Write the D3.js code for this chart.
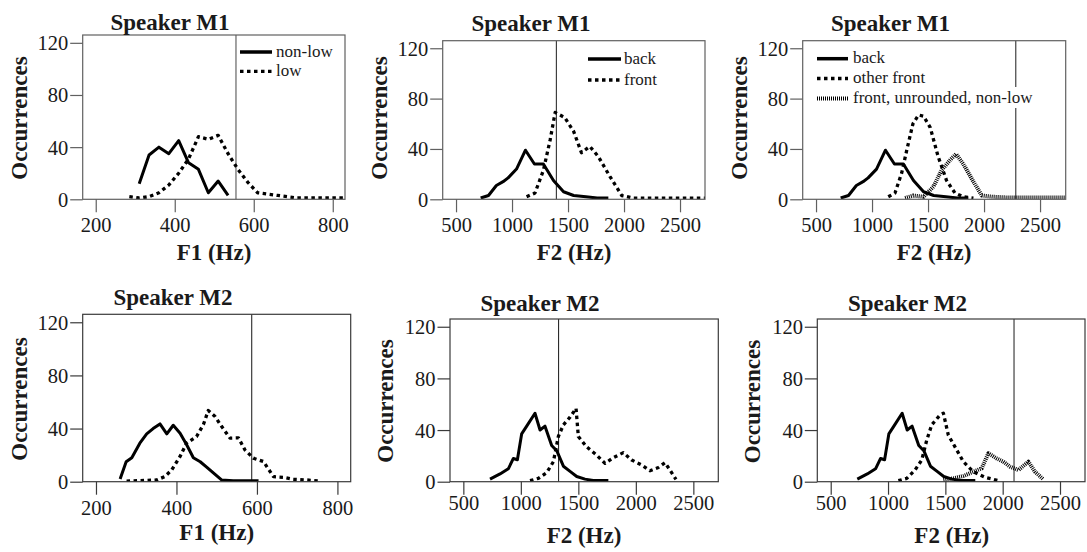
<!DOCTYPE html>
<html><head><meta charset="utf-8">
<script src="https://cdn.jsdelivr.net/npm/d3@7"></script>
</head><body style="margin:0">
<svg id="chart" width="1087" height="552"></svg>
<script>
// ---------- data (frequency Hz, occurrences) ----------
const f1Ticks = [200, 400, 600, 800];
const f2Ticks = [500, 1000, 1500, 2000, 2500];
const yTicks = [0, 40, 80, 120];
const yMax = 126;

// Speaker M1, F1
const m1F1NonLow = [[310,12],[335,34],[360,40],[385,35],[410,45],[435,28],[460,23],[485,5],[510,14],[535,3]];
const m1F1Low = [[285,2],[310,1],[335,2],[360,5],[385,11],[410,20],[435,31],[460,48],[485,46],[510,49],[535,35],[560,23],[585,13],[610,5],[635,4],[660,3],[685,2],[710,1],[735,1],[760,1],[785,1],[810,1],[835,1]];
// Speaker M1, F2
const m1F2Back = [[720,1],[790,3],[860,11],[920,14],[965,17],[1040,24],[1120,39],[1200,28],[1280,28],[1370,15],[1460,6],[1550,3],[1660,2],[1760,1],[1860,1]];
const m1F2Front = [[1130,2],[1205,5],[1280,23],[1340,47],[1385,69],[1470,65],[1550,54],[1620,37],[1695,42],[1770,34],[1875,18],[1980,3],[2080,1],[2200,1],[2300,1],[2400,1],[2500,1],[2600,1],[2730,1]];
const m1F2OtherFront = [[1145,2],[1205,5],[1265,21],[1310,39],[1365,60],[1415,67],[1460,66],[1520,57],[1590,34],[1665,15],[1740,5],[1815,2],[1905,1]];
const m1F2FrontUnrNonLow = [[1295,1],[1370,3],[1460,2],[1548,10],[1620,23],[1695,31],[1750,36],[1815,28],[1905,14],[1980,3],[2080,2],[2200,1.5],[2300,1.5],[2400,1.5],[2500,1.5],[2600,1.5],[2730,1.5]];
// Speaker M2, F1
const m2F1NonLow = [[260,2],[275,15],[289,18],[309,29],[326,36],[342,40],[359,43.5],[376,36],[392,42.5],[409,36.5],[425,28],[442,18],[459,15],[475,11],[496,5.5],[512,1.3],[541,0.8],[570,0.8],[604,0.8]];
const m2F1Low = [[276,0.5],[309,0.8],[351,1.3],[371,3.8],[388,8.8],[409,19],[425,29],[450,34],[467,43],[479,53.6],[496,49],[512,41.7],[533,32.8],[554,33],[570,24],[591,17.7],[616,15.2],[641,3.8],[666,3.3],[690,1.8],[724,1.3],[757,0.5]];
// Speaker M2, F2
const m2F2Back = [[732,2],[819,6],[891,10],[935,18],[970,17],[1007,37],[1051,43],[1123,53],[1167,40],[1210,43],[1268,28],[1312,24],[1370,12],[1428,8],[1486,4],[1558,2],[1630,1],[1761,1]];
const m2F2Front = [[1080,0.8],[1152,2.6],[1225,7],[1283,15.5],[1326,35],[1370,44],[1428,50],[1480,56.8],[1500,35],[1572,27],[1659,20.6],[1732,14.2],[1804,18.6],[1891,22.5],[1964,16.8],[2051,12.9],[2123,8.5],[2196,11],[2254,14.7],[2297,9],[2349,1.8]];
const m2F2OtherFront = [[1090,0.8],[1163,2.6],[1235,9],[1294,16.8],[1337,32],[1381,44],[1453,51.6],[1483,53],[1526,36],[1584,27],[1657,15.5],[1744,7.7],[1846,3.4],[1919,1.8],[1977,0.5]];
const m2F2FrontUnrNonLow = [[1483,1.3],[1570,2.6],[1657,4.4],[1744,7.7],[1817,10.3],[1875,22],[1948,18],[2006,15.5],[2064,11.6],[2137,9],[2224,15.5],[2282,7.7],[2355,1.8]];

const boundaries = [555, 1396, 2283, 587, 1328, 2099];
const titles = ["Speaker M1","Speaker M1","Speaker M1","Speaker M2","Speaker M2","Speaker M2"];
const xLabels = ["F1 (Hz)","F2 (Hz)","F2 (Hz)","F1 (Hz)","F2 (Hz)","F2 (Hz)"];

// ---------- styles ----------
const lineStyles = {
  solid:   {w:3,   dash:null},
  dotted:  {w:3.3, dash:"3.5,3.5"},
  hatched: {w:4,   dash:"1,1"}
};

// ---------- layout ----------
const panels = [
  {left:82.7, right:345, top:35, bottom:199.3, xDomain:[167,831], ticks:f1Ticks,
   titleX:170, titleY:30, xLabX:214, xLabY:259.5, yLabX:27.3, yLabY:118, tickPad:33, frame:"#606060", vcol:"#707070", vw:1.3,
   series:[{d:m1F1NonLow,s:"solid",name:"non-low"},{d:m1F1Low,s:"dotted",name:"low"}],
   legend:{x0:240,x1:272,tx:276,y:[52,71.3]}},
  {left:442.7, right:705, top:40.7, bottom:199.3, xDomain:[381,2723], ticks:f2Ticks,
   titleX:531, titleY:30.7, xLabX:574, xLabY:259.5, yLabX:387.3, yLabY:118, tickPad:33, frame:"#606060", vcol:"#303030", vw:1.1,
   series:[{d:m1F2Back,s:"solid",name:"back"},{d:m1F2Front,s:"dotted",name:"front"}],
   legend:{x0:588,x1:621,tx:624,y:[59,80]}},
  {left:802.7, right:1065.7, top:40.7, bottom:199.3, xDomain:[381,2729], ticks:f2Ticks,
   titleX:890.5, titleY:30.7, xLabX:934, xLabY:259.5, yLabX:747.3, yLabY:118, tickPad:33, frame:"#606060", vcol:"#505050", vw:1.3,
   series:[{d:m1F2Back,s:"solid",name:"back"},{d:m1F2OtherFront,s:"dotted",name:"other front"},{d:m1F2FrontUnrNonLow,s:"hatched",name:"front, unrounded, non-low"}],
   legend:{x0:817,x1:848,tx:853,y:[58.7,78.5,98.5]}},
  {left:82.7, right:350.7, top:314.3, bottom:481.7, xDomain:[167,833], ticks:f1Ticks,
   titleX:173, titleY:305, xLabX:216.7, xLabY:540, yLabX:26.7, yLabY:399, tickPad:33, frame:"#3a3a3a", vcol:"#2a2a2a", vw:1.1,
   series:[{d:m2F1NonLow,s:"solid"},{d:m2F1Low,s:"dotted"}], legend:null},
  {left:450, right:718.3, top:319, bottom:481.7, xDomain:[384,2717], ticks:f2Ticks,
   titleX:540, titleY:311, xLabX:584, xLabY:543, yLabX:393.3, yLabY:401, tickPad:28, frame:"#3a3a3a", vcol:"#2a2a2a", vw:1.1,
   series:[{d:m2F2Back,s:"solid"},{d:m2F2Front,s:"dotted"}], legend:null},
  {left:817.3, right:1085, top:319, bottom:481.7, xDomain:[383,2718], ticks:f2Ticks,
   titleX:907.5, titleY:311, xLabX:951.7, xLabY:543, yLabX:760, yLabY:401.5, tickPad:28, frame:"#3a3a3a", vcol:"#707070", vw:1.6,
   series:[{d:m2F2Back,s:"solid"},{d:m2F2OtherFront,s:"dotted"},{d:m2F2FrontUnrNonLow,s:"hatched"}], legend:null}
];

const svg = d3.select("#chart");
svg.append("rect").attr("width", 1087).attr("height", 552).attr("fill", "#fff");
const defs = svg.append("defs");

function styleText(sel, size, bold) {
  sel.style("font-family", "\"Liberation Serif\"").style("font-size", size + "px")
     .style("font-weight", bold ? "bold" : "normal").attr("fill", "#1a1a1a");
  return sel;
}

panels.forEach((p, i) => {
  const g = svg.append("g");
  const x = d3.scaleLinear().domain(p.xDomain).range([p.left, p.right]);
  const y = d3.scaleLinear().domain([0, yMax]).range([p.bottom, p.top]);

  defs.append("clipPath").attr("id", "clip" + i).append("rect")
    .attr("x", p.left).attr("y", p.top).attr("width", p.right - p.left).attr("height", p.bottom - p.top);

  g.append("line").attr("x1", x(boundaries[i])).attr("x2", x(boundaries[i]))
    .attr("y1", p.top).attr("y2", p.bottom).attr("stroke", p.vcol).attr("stroke-width", p.vw);

  const line = d3.line().x(d => x(d[0])).y(d => y(d[1]));
  const sg = g.append("g").attr("clip-path", `url(#clip${i})`);
  p.series.forEach(s => {
    const st = lineStyles[s.s];
    sg.append("path").attr("d", line(s.d)).attr("fill", "none").attr("stroke", "#000")
      .attr("stroke-width", st.w).attr("stroke-dasharray", st.dash).attr("stroke-linejoin", "round");
  });

  g.append("rect").attr("x", p.left).attr("y", p.top).attr("width", p.right - p.left).attr("height", p.bottom - p.top)
    .attr("fill", "none").attr("stroke", p.frame).attr("stroke-width", 1.2);

  // x axis
  const xa = g.append("g").attr("transform", `translate(0,${p.bottom})`)
    .call(d3.axisBottom(x).tickValues(p.ticks).tickSize(13).tickSizeOuter(0).tickFormat(d3.format("d")));
  xa.attr("font-family", null).attr("font-size", null);
  xa.select(".domain").remove();
  xa.selectAll(".tick line").attr("stroke", p.frame).attr("stroke-width", 1.2);
  styleText(xa.selectAll(".tick text").attr("y", p.tickPad).attr("dy", null), 20.5, false);

  // y axis
  const ya = g.append("g").attr("transform", `translate(${p.left},0)`)
    .call(d3.axisLeft(y).tickValues(yTicks).tickSize(12.5).tickSizeOuter(0));
  ya.attr("font-family", null).attr("font-size", null);
  ya.select(".domain").remove();
  ya.selectAll(".tick line").attr("stroke", p.frame).attr("stroke-width", 1.2);
  styleText(ya.selectAll(".tick text").attr("x", -14.4).attr("dy", "0.34em"), 20.5, false);

  styleText(g.append("text").attr("x", p.titleX).attr("y", p.titleY)
    .attr("text-anchor", "middle").text(titles[i]), 23, true);
  styleText(g.append("text").attr("x", p.xLabX).attr("y", p.xLabY)
    .attr("text-anchor", "middle").text(xLabels[i]), 23, true);
  styleText(g.append("text").attr("transform", `translate(${p.yLabX},${p.yLabY}) rotate(-90)`)
    .attr("text-anchor", "middle").text("Occurrences"), 23, true);

  if (p.legend) {
    const L = p.legend;
    p.series.forEach((s, k) => {
      const st = lineStyles[s.s];
      const t = styleText(g.append("text").attr("x", L.tx).attr("y", L.y[k] + 4.5).text(s.name), 17, false);
      const bb = t.node().getBBox();
      g.insert("rect", () => t.node()).attr("x", bb.x - 1).attr("y", bb.y - 1)
        .attr("width", bb.width + 3).attr("height", bb.height + 2).attr("fill", "#fff");
      g.append("line").attr("x1", L.x0).attr("x2", L.x1).attr("y1", L.y[k]).attr("y2", L.y[k])
        .attr("stroke", "#000").attr("stroke-width", s.s === "solid" ? 3.5 : st.w).attr("stroke-dasharray", st.dash);
    });
  }
});
</script>
</body></html>
